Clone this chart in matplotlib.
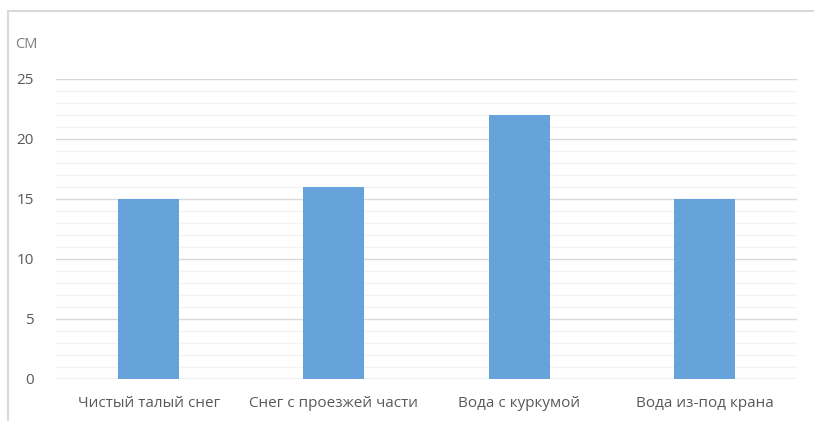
import matplotlib.pyplot as plt
from matplotlib.lines import Line2D
import numpy as np

plt.rcParams['font.family'] = ['Open Sans', 'DejaVu Sans']

categories = ['Чистый талый снег', 'Снег с проезжей части', 'Вода с куркумой', 'Вода из-под крана']
heights = [15, 16, 22, 15]
y_ticks = [0, 5, 10, 15, 20, 25]

text_color = '#595959'
bar_color = '#65a3da'

fig = plt.figure(figsize=(8.14, 4.21), dpi=100)
ax = fig.add_axes([56 / 814, 1 - 379 / 421, (797 - 56) / 814, 300 / 421])

x = np.arange(len(categories))
ax.bar(x, heights, width=0.33, color=bar_color, zorder=3)

ax.set_xlim(-0.5, len(categories) - 0.5)
ax.set_ylim(0, 25)
ax.set_yticks(y_ticks)
ax.set_yticks(np.arange(0, 26, 1), minor=True)
ax.set_xticks(x)
ax.set_xticklabels(categories)

ax.grid(axis='y', which='major', color='#d9d9d9', lw=1, zorder=0)
ax.grid(axis='y', which='minor', color='#f2f2f2', lw=1, zorder=0)
ax.tick_params(axis='both', which='both', length=0, labelsize=11, colors=text_color)
ax.tick_params(axis='x', pad=12)
ax.tick_params(axis='y', pad=16)
for s in ax.spines.values():
    s.set_visible(False)
ax.axhline(0, color='#d9d9d9', lw=1, zorder=2)

fig.text(15 / 814, 1 - 44 / 421, 'СМ', fontsize=10.5, color='#7f7f7f', va='center')

# outer chart border (cropped on the right and bottom)
fig.add_artist(Line2D([8 / 814, 8 / 814], [0, 1 - 11 / 421], color='#d9d9d9', lw=1.5))
fig.add_artist(Line2D([8 / 814, 1], [1 - 11 / 421, 1 - 11 / 421], color='#d9d9d9', lw=1.5))

fig.savefig('out.png', dpi=100)
